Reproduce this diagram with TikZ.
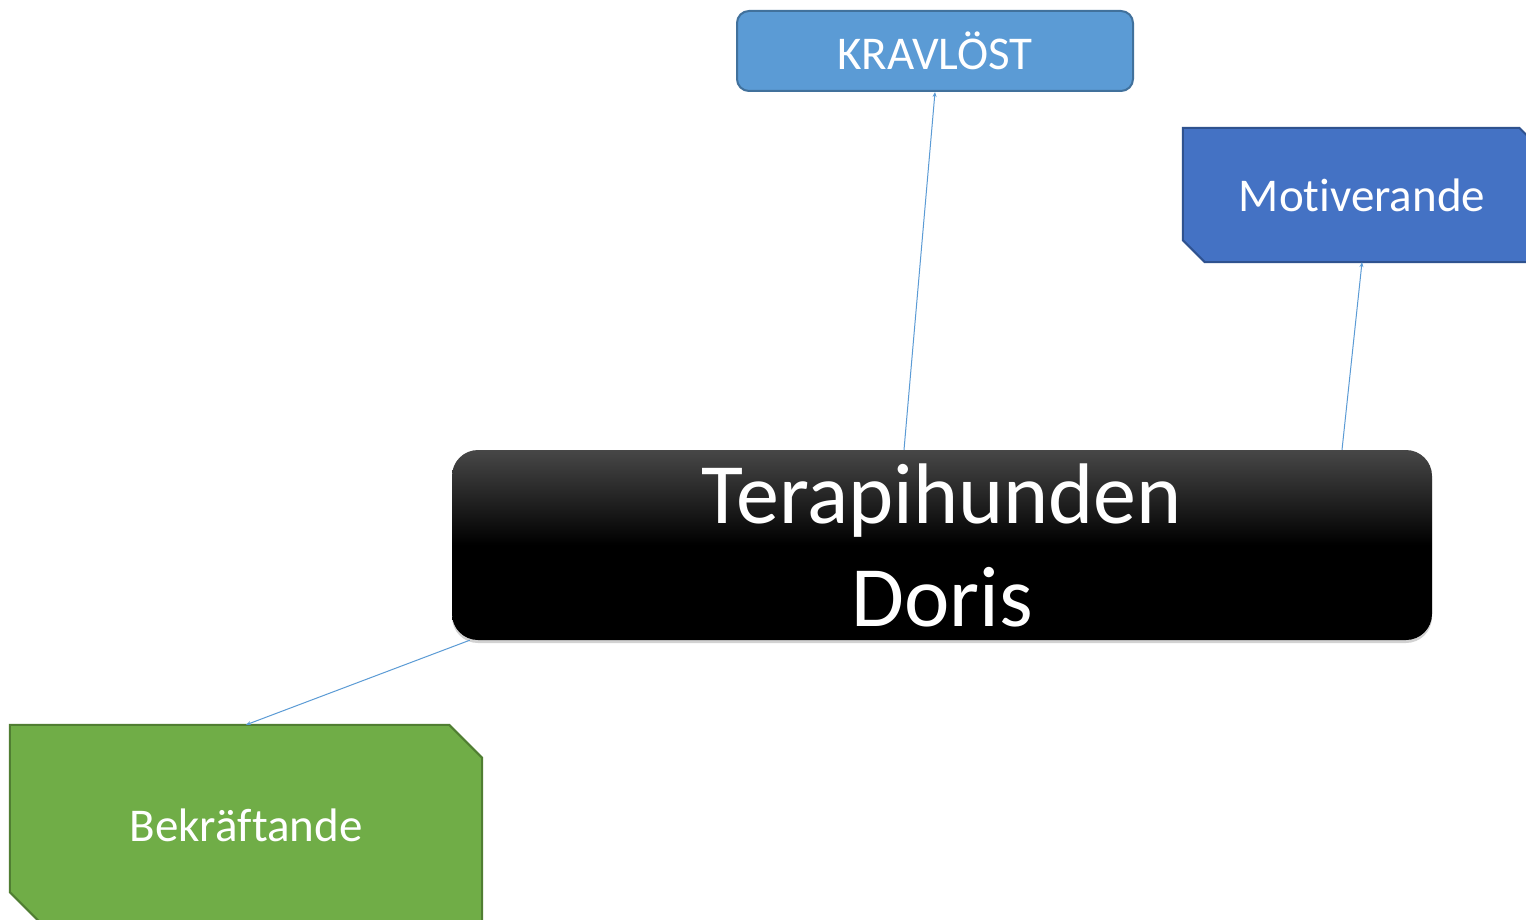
\documentclass[tikz,border=0pt]{standalone}
\usepackage{fontspec}
\setmainfont{Carlito}[Ligatures={NoCommon}]
\usetikzlibrary{arrows.meta,calc,shadows}
\definecolor{kfill}{HTML}{5B9BD5}
\definecolor{kline}{HTML}{41719C}
\definecolor{mfill}{HTML}{4472C4}
\definecolor{mline}{HTML}{2F528F}
\definecolor{bfill}{HTML}{70AD47}
\definecolor{bline}{HTML}{507E32}
\definecolor{ctop}{HTML}{474747}
\tikzset{
  conn/.style={draw=kfill, line width=1pt, -{Stealth[length=5pt,width=4pt]}},
  label/.style={text=white, inner sep=0pt},
}
\begin{document}
\begin{tikzpicture}[x=1pt,y=-1pt]
\useasboundingbox (0,0) rectangle (1526,920);
\clip (0,0) rectangle (1526,920);
\fill[white] (0,0) rectangle (1526,920);
% central node
\node[rounded corners=26pt, minimum width=980pt, minimum height=190pt,
      top color=ctop, bottom color=black, middle color=black,
      drop shadow={opacity=0.35, shadow xshift=0pt, shadow yshift=-3pt},
      text=white, align=center, font=\fontsize{86}{103}\selectfont]
      (main) at (942,545) {Terapihunden\\Doris};
% KRAVLOST
\node[rounded corners=12pt, minimum width=396pt, minimum height=80pt,
      fill=kfill, draw=kline, line width=2pt, text=white,
      font=\fontsize{47}{55}\selectfont] (krav) at (935,51) {KRAVLÖST};
% Motiverande
\node[minimum width=358pt, minimum height=134pt, inner sep=0pt] (mot) at (1362,195) {};
\filldraw[fill=mfill, draw=mline, line width=2pt]
  (mot.north west) -- ($(mot.north east)+(-22,0)$) -- ($(mot.north east)+(0,22)$)
  -- (mot.south east) -- ($(mot.south west)+(22,0)$) -- ($(mot.south west)+(0,-22)$) -- cycle;
\node[label, font=\fontsize{47}{55}\selectfont] (motl) at (mot.center) {Motiverande};
% Bekraftande
\node[minimum width=472pt, minimum height=200pt, inner sep=0pt] (bek) at (246,825) {};
\filldraw[fill=bfill, draw=bline, line width=2pt]
  (bek.north west) -- ($(bek.north east)+(-33,0)$) -- ($(bek.north east)+(0,33)$)
  -- (bek.south east) -- ($(bek.south west)+(33,0)$) -- ($(bek.south west)+(0,-33)$) -- cycle;
\node[label, font=\fontsize{47}{55}\selectfont] (bekl) at (bek.center) {Bekräftande};
% connectors
\coordinate (s1) at ($(main.north)+(-38,0)$);
\coordinate (s2) at ($(main.north)+(400,0)$);
\coordinate (s3) at ($(main.south west)+(18,0)$);
\draw[conn] (s1) -- (krav.south);
\draw[conn] (s2) -- (mot.south);
\draw[conn] (s3) -- (bek.north);
\end{tikzpicture}
\end{document}
